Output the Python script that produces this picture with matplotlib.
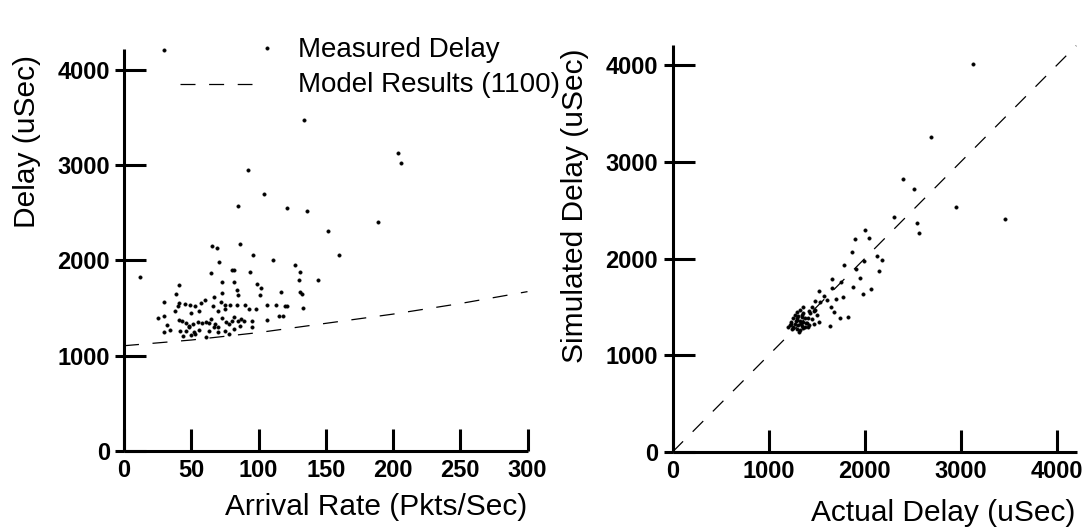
import matplotlib
matplotlib.use("Agg")
import matplotlib.pyplot as plt
from matplotlib.ticker import FixedLocator

plt.rcParams['font.family'] = ['Liberation Sans', 'DejaVu Sans']
plt.rcParams['lines.scale_dashes'] = False

# ---------------- data ----------------
# Left panel: measured delay vs arrival rate
arrival_rate = [29.8, 134, 204, 206, 92.4, 104, 85, 121, 136, 189, 152, 86, 65.5, 69.5, 96, 160,
                111, 71, 127, 80, 82, 131, 64.6, 94, 11.7, 130, 144, 73, 82, 41, 99, 102, 84, 117,
                131, 39, 101, 67, 73, 85, 132, 30, 60, 41, 45, 40, 49, 53, 57, 66, 72, 75, 79, 84,
                90, 106, 113, 120, 121, 133, 38, 50, 56, 70, 75, 93, 98, 30, 25, 41, 43, 46, 48,
                51, 55, 58, 61, 63, 65, 68, 70, 73, 76, 78, 80, 82, 85, 87, 89, 95, 106, 115, 118,
                32, 30, 34, 42, 44, 46, 48, 50, 52, 53, 56, 61, 63, 67, 70, 75, 78, 82, 86, 95]
measured_delay = [4208, 3471, 3130, 3019, 2949, 2702, 2577, 2546, 2522, 2403, 2313, 2177, 2156, 2132,
                  2062, 2062, 2003, 1982, 1951, 1902, 1899, 1878, 1871, 1882, 1826, 1791, 1791, 1774,
                  1774, 1742, 1749, 1715, 1687, 1666, 1666, 1645, 1642, 1621, 1659, 1638, 1645, 1569,
                  1590, 1555, 1544, 1527, 1534, 1527, 1555, 1527, 1562, 1530, 1534, 1530, 1534, 1534,
                  1534, 1527, 1527, 1506, 1471, 1450, 1471, 1471, 1489, 1492, 1489, 1416, 1391, 1377,
                  1360, 1339, 1315, 1332, 1353, 1346, 1356, 1342, 1381, 1332, 1304, 1395, 1356, 1332,
                  1367, 1402, 1367, 1384, 1367, 1360, 1374, 1416, 1416, 1325, 1252, 1270, 1256, 1210,
                  1263, 1297, 1217, 1245, 1231, 1273, 1193, 1263, 1297, 1245, 1256, 1228, 1280, 1315,
                  1297]

# Model results (1100)
model_rate = [0, 50, 100, 150, 200, 250, 300]
model_delay = [1105, 1165, 1243, 1340, 1437, 1548, 1673]

# Right panel: simulated vs actual delay
actual_delay = [3124, 2694, 2397, 2515, 2952, 3460, 2301, 2540, 2569, 2004, 1896, 2047, 1868, 1997,
                2129, 2175, 1782, 1914, 1950, 2147, 1664, 1753, 1878, 2064, 1979, 1521, 1664, 1574,
                1771, 1700, 1485, 1539, 1610, 1646, 1682, 1743, 1825, 1639, 1449, 1467, 1503, 1413,
                1467, 1521,
                1290, 1325, 1361, 1272, 1308, 1343, 1379, 1254, 1290, 1325, 1361, 1397, 1236, 1272,
                1308, 1343, 1290, 1254, 1218, 1379, 1415, 1325, 1200, 1361, 1415, 1486, 1433, 1450,
                1300, 1335, 1355, 1280, 1245, 1320, 1390, 1230, 1405, 1350]
simulated_delay = [4010, 3254, 2817, 2723, 2536, 2404, 2428, 2369, 2265, 2297, 2206, 2210, 2064, 1977,
                   2022, 1981, 1932, 1891, 1797, 1866, 1787, 1762, 1707, 1683, 1634, 1669, 1693, 1613,
                   1606, 1585, 1564, 1551, 1571, 1495, 1447, 1381, 1398, 1301, 1502, 1460, 1415, 1381,
                   1322, 1346,
                   1449, 1467, 1439, 1415, 1404, 1397, 1390, 1380, 1363, 1356, 1345, 1335, 1345, 1328,
                   1311, 1300, 1276, 1293, 1311, 1293, 1311, 1259, 1293, 1501, 1460, 1467, 1432, 1370,
                   1380, 1320, 1285, 1350, 1270, 1240, 1330, 1320, 1290, 1420]

ref_line = [0, 4200]

left_xticks = [0, 50, 100, 150, 200, 250, 300]
left_yticks = [0, 1000, 2000, 3000, 4000]
right_xticks = [0, 1000, 2000, 3000, 4000]
right_yticks = [0, 1000, 2000, 3000, 4000]

# ---------------- figure ----------------
W, H = 1088, 527
fig = plt.figure(figsize=(W / 100, H / 100), dpi=100)


def px_rect(x0, x1, ytop, ybot):
    return [x0 / W, 1 - ybot / H, (x1 - x0) / W, (ybot - ytop) / H]


axL = fig.add_axes(px_rect(124, 527.5, 49, 451))
axR = fig.add_axes(px_rect(672.5, 1077, 45, 452))

DASH = (0, (10.8, 9.8))
LW_SPINE = 2.2
label_font = dict(fontsize=21.5)
MS = 2.6
MEW = 0.2


def style(ax, xticks, yticks, ylab_pad):
    for s in ['top', 'right']:
        ax.spines[s].set_visible(False)
    for s in ['left', 'bottom']:
        ax.spines[s].set_linewidth(LW_SPINE)
        ax.spines[s].set_capstyle('butt')
    ax.set_xticks(xticks)
    ax.set_yticks(yticks)
    ax.tick_params(axis='both', which='major', direction='in', length=16, width=2.2,
                   colors='black')
    ax.tick_params(axis='x', which='major', pad=6)
    ax.tick_params(axis='y', which='major', pad=ylab_pad)
    ax.yaxis.set_minor_locator(FixedLocator(yticks))
    ax.yaxis.remove_overlapping_locs = False
    ax.tick_params(axis='y', which='minor', direction='out', length=6.5, width=2.2)
    for lab in ax.get_xticklabels() + ax.get_yticklabels():
        lab.set_fontsize(17)
        lab.set_fontweight('bold')


# Left panel
axL.plot(arrival_rate, measured_delay, linestyle='none', marker='o', markersize=MS,
         markeredgewidth=MEW, color='black', clip_on=False)
axL.plot(model_rate, model_delay, color='black', linewidth=0.9, linestyle=DASH)
axL.set_xlim(0, 300)
axL.set_ylim(0, 4220)
style(axL, left_xticks, left_yticks, 10)

# Right panel
axR.plot(actual_delay, simulated_delay, linestyle='none', marker='o', markersize=MS,
         markeredgewidth=MEW, color='black', clip_on=False)
axR.plot(ref_line, ref_line, color='black', linewidth=0.9, linestyle=DASH)
axR.set_xlim(0, 4208)
axR.set_ylim(0, 4207)
style(axR, right_xticks, right_yticks, 10.5)

# Axis labels (placed in figure pixels)
fig.text(27.5 / W, 1 - 141.5 / H, 'Delay (uSec)', rotation=90, ha='center', va='center',
         **label_font)
fig.text(575 / W, 1 - 206 / H, 'Simulated Delay (uSec)', rotation=90, ha='center', va='center',
         **label_font)
fig.text(527 / W, 1 - 507 / H, 'Arrival Rate (Pkts/Sec)', ha='right', va='center', **label_font)
fig.text(1075 / W, 1 - 513 / H, 'Actual Delay (uSec)', ha='right', va='center', **label_font)

# Legend drawn by hand
fig.text(298 / W, 1 - 57 / H, 'Measured Delay', ha='left', va='baseline', fontsize=20)
fig.text(298 / W, 1 - 92 / H, 'Model Results (1100)', ha='left', va='baseline', fontsize=20)
fig.lines.append(matplotlib.lines.Line2D([267 / W], [1 - 48 / H], transform=fig.transFigure,
                                         marker='o', markersize=MS, markeredgewidth=MEW,
                                         color='black', linestyle='none'))
fig.lines.append(matplotlib.lines.Line2D([180 / W, 252 / W], [1 - 84 / H, 1 - 84 / H],
                                         transform=fig.transFigure, color='black',
                                         linewidth=0.9, linestyle=DASH))

fig.savefig('out.png', dpi=100)
